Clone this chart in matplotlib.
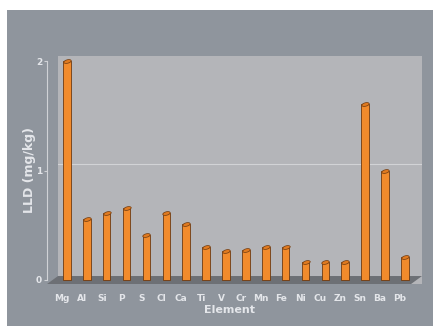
import matplotlib.pyplot as plt
import matplotlib.transforms as mtransforms
from matplotlib.patches import Rectangle, Polygon
from matplotlib.path import Path

elements = ['Mg', 'Al', 'Si', 'P', 'S', 'Cl', 'Ca', 'Ti', 'V', 'Cr',
            'Mn', 'Fe', 'Ni', 'Cu', 'Zn', 'Sn', 'Ba', 'Pb']
lld = [2.00, 0.56, 0.61, 0.66, 0.41, 0.61, 0.51, 0.30, 0.26, 0.27,
       0.30, 0.30, 0.16, 0.16, 0.16, 1.61, 1.00, 0.21]
yticks = [0, 1, 2]

bg = '#8f959d'
wall = '#b4b5b9'
floor = '#6d7075'
txt = '#e4e6ea'

W, H = 433, 326
fig = plt.figure(figsize=(W / 100, H / 100), dpi=100)
fig.patch.set_facecolor('white')
fig.add_artist(Rectangle((7 / W, 0), 1, 1 - 10 / H, transform=fig.transFigure,
                         facecolor=bg, edgecolor='none', zorder=0))

# back wall of the pseudo-3d box
ax = fig.add_axes([58 / W, 1 - 284 / H, (422 - 58) / W, (284 - 56) / H])
ax.set_facecolor(wall)
x = list(range(len(elements)))
ax.set_xlim(-0.45, 17.86)
ax.set_ylim(-0.04, 2.05)

# floor
ax.add_patch(Polygon([(0.0, 0.035), (1.0, 0.035), (0.97, 0.0), (-0.03, 0.0)],
                     closed=True, transform=ax.transAxes, facecolor=floor,
                     edgecolor='none', zorder=1, clip_on=False))
ax.axhline(1.06, color='#d2d3d6', lw=0.8, zorder=1)

# flat ellipse used as the cylinder cap
circ = Path.unit_circle()
cap = Path(circ.vertices * [1.0, 0.45] @ [[0.97, 0.24], [-0.24, 0.97]],
           circ.codes)

ax.bar(x, lld, width=0.38, color='#f28b2c', edgecolor='#6e3a10',
       linewidth=0.6, zorder=3)
ax.scatter(x, lld, s=30, marker=cap, color='#e07a20', edgecolor='#6e3a10',
           linewidth=0.5, zorder=4)

for s in ['top', 'right', 'bottom']:
    ax.spines[s].set_visible(False)
ax.spines['left'].set_position(('outward', 8))
ax.spines['left'].set_color('#d0d2d6')
ax.spines['left'].set_bounds(0, 2)
ax.set_yticks(yticks)
ax.set_yticklabels([str(v) for v in yticks])
ax.tick_params(axis='y', colors='#d0d2d6', labelcolor=txt, length=2.5,
               labelsize=6.5, pad=1)
ax.set_xticks(x)
ax.set_xticklabels(elements, fontweight='bold')
ax.tick_params(axis='x', length=0, labelcolor=txt, labelsize=6.5, pad=7)
shift = mtransforms.ScaledTranslation(-5 / 100, 0, fig.dpi_scale_trans)
for lab in ax.get_xticklabels():
    lab.set_transform(lab.get_transform() + shift)
for lab in ax.get_yticklabels():
    lab.set_fontweight('bold')

ax.set_xlabel('Element', color=txt, fontsize=8, fontweight='bold')
ax.xaxis.set_label_coords(0.47, -0.09)
ax.set_ylabel('LLD (mg/kg)', color=txt, fontsize=9, fontweight='bold')
ax.yaxis.set_label_coords(-0.06, 0.5)

fig.savefig('out.png', dpi=100, facecolor=fig.get_facecolor())
